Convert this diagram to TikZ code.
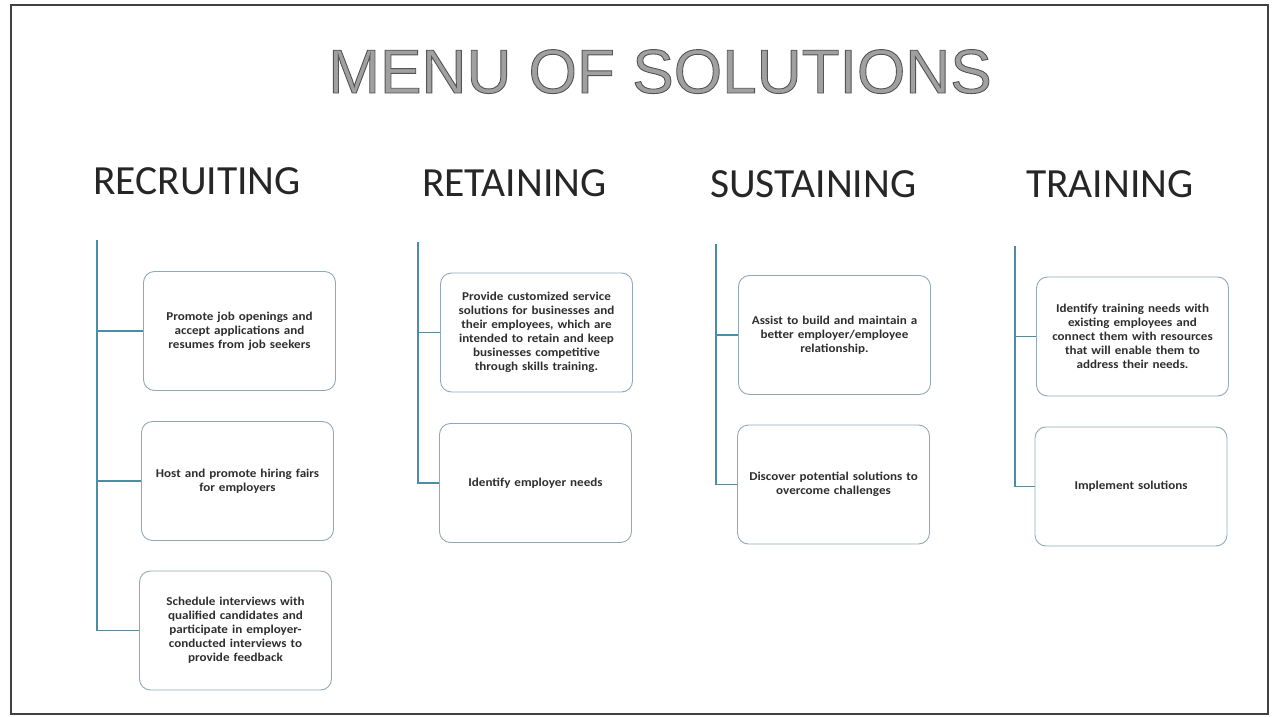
\documentclass[tikz,border=0pt]{standalone}
\usepackage{fontspec}
\setmainfont{Carlito}
\newfontfamily\titlefont{Liberation Sans}
\newfontfamily\boxfont[FakeStretch=1.09]{Carlito}
\definecolor{linkblue}{HTML}{4A8DAA}
\definecolor{boxline}{HTML}{8FA9B8}
\definecolor{txt}{HTML}{2E2E2E}
\definecolor{titlegray}{HTML}{A0A0A0}
\definecolor{framecol}{HTML}{404040}
\newcommand{\outlinedtext}[1]{\special{pdf:literal direct 2 Tr 0.9 w 0.33 0.33 0.33 RG}#1\special{pdf:literal direct 0 Tr}}
\begin{document}
\begin{tikzpicture}[x=1pt,y=-1pt,
  solbox/.style={draw=boxline, line width=0.9pt, rounded corners=11pt,
    minimum width=192pt, minimum height=119pt, text width=186pt,
    align=center, font=\boxfont\bfseries\fontsize{12}{14}\selectfont,
    text=txt, inner sep=0pt},
  header/.style={anchor=base west, font=\fontsize{41.5}{48}\selectfont,
    text=black!85, inner sep=0pt},
  link/.style={draw=linkblue, line width=1.3pt}]
\useasboundingbox (0,0) rectangle (1274,717);
\draw[framecol, line width=2.5pt] (11,5) rectangle (1268,714);

\node[font=\titlefont\fontsize{62.2}{70}\selectfont, text=titlegray, anchor=base, inner sep=0pt] (title) at (660,93) {\outlinedtext{MENU OF SOLUTIONS}};

\node[header] (h1) at (93,194) {RECRUITING};
\node[header] (h2) at (422,196) {RETAINING};
\node[header] (h3) at (710,197) {SUSTAINING};
\node[header] (h4) at (1026,197) {TRAINING};

% Recruiting
\node[solbox] (a1) at (239.5,331) {Promote job openings and\\accept applications and\\resumes from job seekers};
\node[solbox] (a2) at (237.5,481) {Host and promote hiring fairs\\for employers};
\node[solbox] (a3) at (235.5,630.5) {Schedule interviews with\\qualified candidates and\\participate in employer-\\conducted interviews to\\provide feedback};
\coordinate (atop) at (97,240);
\draw[link] (atop) |- (a1.west);
\draw[link] (atop) |- (a2.west);
\draw[link] (atop) |- (a3.west);

% Retaining
\node[solbox] (b1) at (536.5,332.5) {Provide customized service\\solutions for businesses and\\their employees, which are\\intended to retain and keep\\businesses competitive\\through skills training.};
\node[solbox] (b2) at (535.5,483) {Identify employer needs};
\coordinate (btop) at (418,242);
\draw[link] (btop) |- (b1.west);
\draw[link] (btop) |- (b2.west);

% Sustaining
\node[solbox] (c1) at (834.5,335) {Assist to build and maintain a\\better employer/employee\\relationship.};
\node[solbox] (c2) at (833.5,484.5) {Discover potential solutions to\\overcome challenges};
\coordinate (ctop) at (716,244);
\draw[link] (ctop) |- (c1.west);
\draw[link] (ctop) |- (c2.west);

% Training
\node[solbox] (d1) at (1132.5,336.5) {Identify training needs with\\existing employees and\\connect them with resources\\that will enable them to\\address their needs.};
\node[solbox] (d2) at (1131,486.5) {Implement solutions};
\coordinate (dtop) at (1015,246);
\draw[link] (dtop) |- (d1.west);
\draw[link] (dtop) |- (d2.west);
\end{tikzpicture}
\end{document}
